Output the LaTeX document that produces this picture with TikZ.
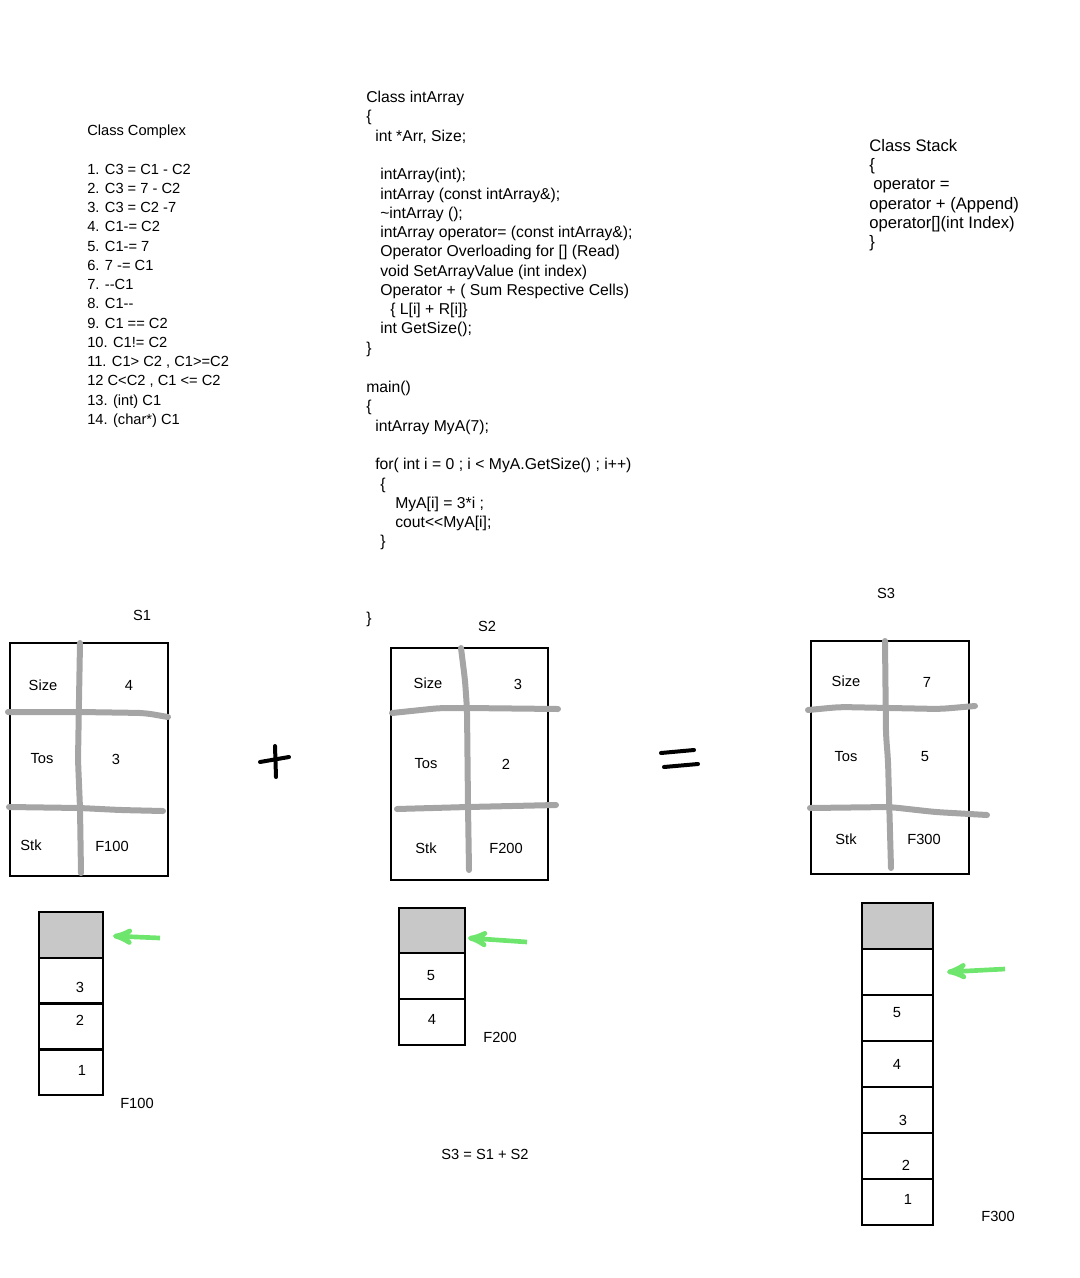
\documentclass[tikz,border=0pt]{standalone}
\usepackage{fontspec}
\setmainfont{Liberation Sans}[Ligatures=TeXOff]
\usetikzlibrary{arrows}
\definecolor{linegray}{RGB}{165,165,165}
\definecolor{cellgray}{RGB}{200,200,200}
\definecolor{arrowgreen}{RGB}{110,230,110}
\newcommand{\ind}[1]{\hspace*{#1}}

\begin{document}
\begin{tikzpicture}[x=0.75pt,y=-0.75pt,>=stealth',
  code/.style={anchor=north west,align=left,inner sep=0pt,font=\fontsize{11}{14.45}\selectfont},
  wide code/.style={code,font=\fontsize{11.8}{14.45}\selectfont},
  txt/.style={inner sep=0pt,font=\fontsize{11}{12}\selectfont},
  boxline/.style={draw,line width=1.2pt},
  cellline/.style={draw,line width=1.6pt},
  grid line/.style={draw=linegray,line width=4.5pt,line cap=round,rounded corners=6pt},
  green arrow/.style={->,draw=arrowgreen,line width=3.5pt},
  sign/.style={draw,line width=3pt,line cap=round}]

  \useasboundingbox (0,0) rectangle (1079,1278);

  % class Complex
  \node[code] (complextitle) at (87,124.5) {Class Complex};
  \node[code] (complexlist) at (87,163.5) {1. C3 = C1 - C2\\2. C3 = 7 - C2\\3. C3 = C2 -7\\4. C1-= C2\\5. C1-= 7\\6. 7 -= C1\\7. --C1\\8. C1--\\9. C1 == C2\\10. C1!= C2\\11. C1> C2 , C1>=C2\\12 C<C2 , C1 <= C2\\13. (int) C1\\14. (char*) C1};

  % class intArray and main
  \node[wide code] (arraycode) at (366,91) {Class intArray\\
    \{\\
    \ind{6.75pt}int *Arr, Size;\\
    \mbox{}\\
    \ind{10.5pt}intArray(int);\\
    \ind{10.5pt}intArray (const intArray\&);\\
    \ind{10.5pt}\textasciitilde intArray ();\\
    \ind{10.5pt}intArray operator= (const intArray\&);\\
    \ind{10.5pt}Operator Overloading for [] (Read)\\
    \ind{10.5pt}void SetArrayValue (int index)\\
    \ind{10.5pt}Operator + ( Sum Respective Cells)\\
    \ind{18pt}\{ L[i] + R[i]\}\\
    \ind{10.5pt}int GetSize();\\
    \}};
  \node[wide code] (maincode) at (366,381) {main()\\
    \{\\
    \ind{6.75pt}intArray MyA(7);\\
    \mbox{}\\
    \ind{6.75pt}for( int i = 0 ; i < MyA.GetSize() ; i++)\\
    \ind{10.5pt}\{\\
    \ind{21.75pt}MyA[i] = 3*i ;\\
    \ind{21.75pt}cout<<MyA[i];\\
    \ind{10.5pt}\}\\
    \mbox{}\\
    \mbox{}\\
    \mbox{}\\
    \}};

  % class Stack
  \node[code,font=\fontsize{12.5}{14.45}\selectfont] (stackcode) at (869,139) {Class Stack\\
    \{\\
    \ind{3pt}operator =\\
    operator + (Append)\\
    operator[](int Index)\\
    \}};

  % S1
  \node[txt] (s1) at (142,615) {S1};
  \draw[boxline] (10,643) rectangle (168,876);
  \draw[grid line] (80,643) -- (79,700) -- (78,760) -- (80,808) -- (81,873);
  \draw[grid line] (8,712) -- (80,712) -- (145,713) -- (168,717);
  \draw[grid line] (9,807) -- (80,808) -- (120,810) -- (163,811);
  \node[txt] (s1size) at (43,685) {Size};
  \node[txt] (s1sizev) at (129,685) {4};
  \node[txt] (s1tos) at (42,759) {Tos};
  \node[txt] (s1tosv) at (116,759) {3};
  \node[txt] (s1stk) at (31,845) {Stk};
  \node[txt] (s1stkv) at (112,846) {F100};

  % plus
  \draw[sign] (260,762) -- (289,757);
  \draw[sign] (275,746) -- (276,777);

  % S2
  \node[txt] (s2) at (487,626) {S2};
  \draw[boxline] (391,648) rectangle (548,880);
  \draw[grid line] (461,648) -- (465,680) -- (467,709) -- (468,806) -- (469,870);
  \draw[grid line] (392,713) -- (440,708) -- (467,708) -- (558,709);
  \draw[grid line] (397,809) -- (468,807) -- (556,805);
  \node[txt] (s2size) at (428,683) {Size};
  \node[txt] (s2sizev) at (518,684) {3};
  \node[txt] (s2tos) at (426,764) {Tos};
  \node[txt] (s2tosv) at (506,764) {2};
  \node[txt] (s2stk) at (426,848) {Stk};
  \node[txt] (s2stkv) at (506,848) {F200};

  % equals
  \draw[sign] (661,753) -- (694,750);
  \draw[sign] (664,767) -- (698,764);

  % S3
  \node[txt] (s3) at (886,593) {S3};
  \draw[boxline] (811,641) rectangle (969,874);
  \draw[grid line] (885,641) -- (886,735) -- (888,760) -- (891,868);
  \draw[grid line] (808,710) -- (840,707) -- (940,709) -- (975,706);
  \draw[grid line] (810,808) -- (890,807) -- (935,812) -- (987,815);
  \node[txt] (s3size) at (846,681) {Size};
  \node[txt] (s3sizev) at (927,682) {7};
  \node[txt] (s3tos) at (846,757) {Tos};
  \node[txt] (s3tosv) at (925,757) {5};
  \node[txt] (s3stk) at (846,839) {Stk};
  \node[txt] (s3stkv) at (924,839) {F300};

  % stack F100
  \draw[cellline,fill=cellgray] (39,912) rectangle (103,958);
  \foreach \y in {958,1003.5,1049}
    \draw[cellline] (39,\y) rectangle +(64,46);
  \node[txt] (f1a) at (80,987) {3};
  \node[txt] (f1b) at (80,1020) {2};
  \node[txt] (f1c) at (82,1070) {1};
  \node[txt] (f100) at (137,1103) {F100};
  \coordinate (f1from) at (160,938);
  \coordinate (f1to) at (113,936);
  \draw[green arrow] (f1from) -- (f1to);

  % stack F200
  \draw[cellline,fill=cellgray] (399,908) rectangle (465,953);
  \foreach \y in {953,999}
    \draw[cellline] (399,\y) rectangle +(66,46);
  \node[txt] (f2a) at (431,976) {5};
  \node[txt] (f2b) at (432,1019) {4};
  \node[txt] (f200) at (500,1037) {F200};
  \coordinate (f2from) at (527,942);
  \coordinate (f2to) at (468,938);
  \draw[green arrow] (f2from) -- (f2to);

  % stack F300
  \draw[cellline,fill=cellgray] (862,903) rectangle (933,949);
  \foreach \y in {949,995,1041,1087,1133,1179}
    \draw[cellline] (862,\y) rectangle +(71,46);
  \node[txt] (f3a) at (897,1013) {5};
  \node[txt] (f3b) at (897,1064) {4};
  \node[txt] (f3c) at (903,1120) {3};
  \node[txt] (f3d) at (906,1165) {2};
  \node[txt] (f3e) at (908,1199) {1};
  \node[txt] (f300) at (998,1216) {F300};
  \coordinate (f3from) at (1005,969);
  \coordinate (f3to) at (947,972);
  \draw[green arrow] (f3from) -- (f3to);

  \node[txt] (sum) at (485,1154) {S3 = S1 + S2};
\end{tikzpicture}
\end{document}
